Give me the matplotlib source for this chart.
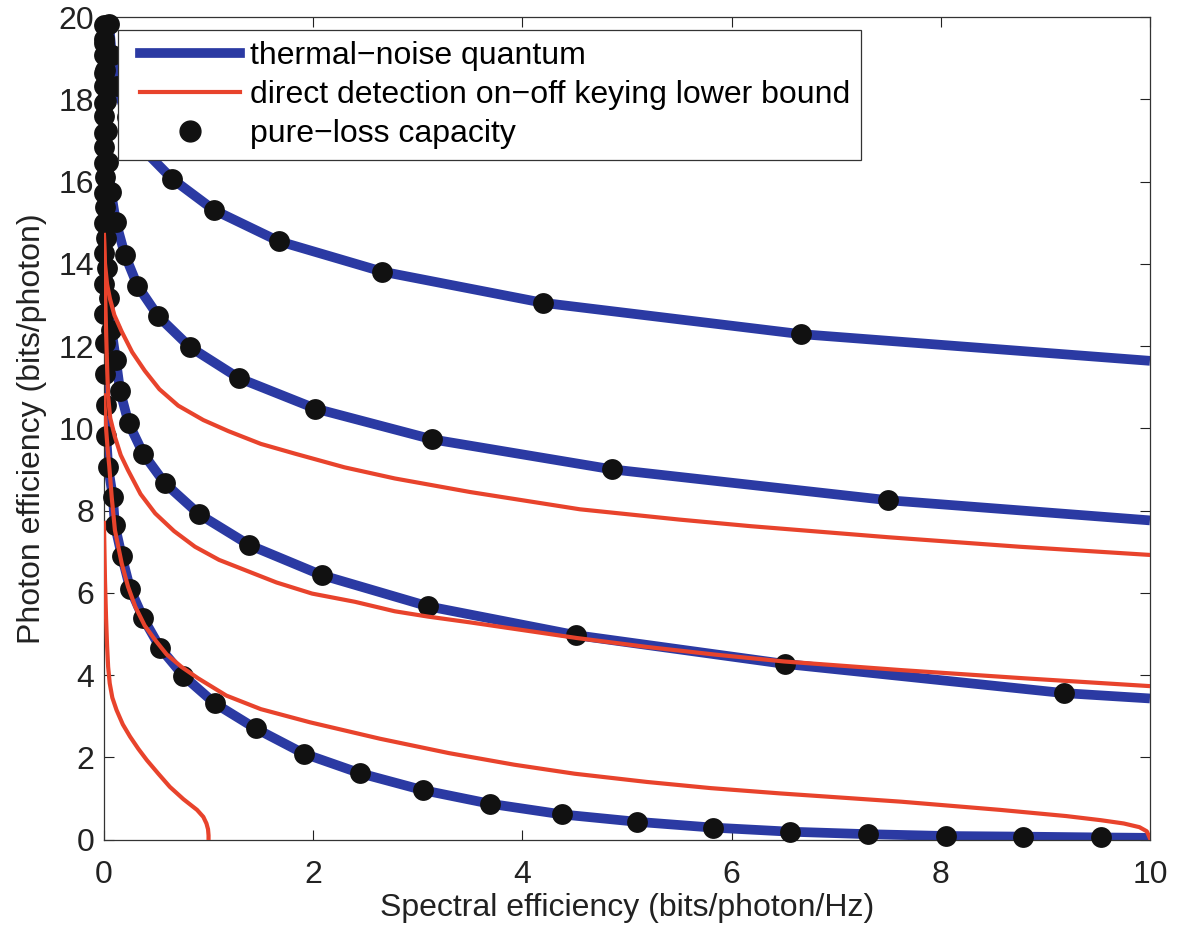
import matplotlib
matplotlib.use("Agg")
import matplotlib.pyplot as plt
from matplotlib.lines import Line2D
from matplotlib.legend_handler import HandlerLine2D

plt.rcParams['font.family'] = ['Liberation Sans', 'DejaVu Sans']

#################################################
# Values
# pure-loss capacity dots, one set per curve (top to bottom)
loss_a_x = [0.05, 0.075, 0.12, 0.22, 0.36, 0.65, 1.05, 1.67, 2.66, 4.2, 6.66]
loss_a_y = [19.82, 19.07, 18.32, 17.57, 16.82, 16.07, 15.31, 14.55, 13.81, 13.05, 12.29]

loss_b_x = [0.005, 0.009, 0.015, 0.025, 0.04, 0.068, 0.115, 0.2, 0.32, 0.52,
            0.82, 1.29, 2.02, 3.14, 4.86, 7.5]
loss_b_y = [19.47, 18.72, 17.97, 17.22, 16.47, 15.74, 15.01, 14.22, 13.47, 12.72,
            11.98, 11.22, 10.48, 9.73, 9.0, 8.25]

loss_c_x = [0.001, 0.0015, 0.002, 0.003, 0.005, 0.008, 0.013, 0.02, 0.032, 0.045,
            0.072, 0.115, 0.155, 0.235, 0.376, 0.58, 0.91, 1.39, 2.08, 3.10,
            4.51, 6.51, 9.18]
loss_c_y = [19.81, 19.07, 18.33, 17.59, 16.85, 16.11, 15.37, 14.63, 13.89, 13.18,
            12.4, 11.65, 10.9, 10.13, 9.38, 8.67, 7.91, 7.16, 6.43, 5.67,
            4.97, 4.27, 3.56]

loss_d_x = [0.0002, 0.0003, 0.0004, 0.0006, 0.0008, 0.001, 0.0015, 0.002, 0.003, 0.004,
            0.006, 0.01, 0.015, 0.022, 0.04, 0.085, 0.105, 0.17, 0.25, 0.376,
            0.54, 0.76, 1.06, 1.45, 1.91, 2.45, 3.05, 3.69, 4.38, 5.10,
            5.82, 6.56, 7.30, 8.05, 8.79, 9.53]
loss_d_y = [19.36, 18.63, 17.9, 17.17, 16.44, 15.71, 14.98, 14.25, 13.52, 12.79,
            12.07, 11.33, 10.56, 9.8, 9.06, 8.33, 7.64, 6.9, 6.1, 5.38,
            4.65, 3.98, 3.31, 2.70, 2.09, 1.61, 1.20, 0.87, 0.61, 0.43,
            0.29, 0.19, 0.13, 0.085, 0.07, 0.05]

# thermal-noise quantum curves: end points beyond the dots (top, right)
quant_start_x = [0.04, 0.003, 0.0008, 0.0001]
quant_start_y = [20.0, 20.0, 20.0, 20.0]
quant_end_y = [11.64, 7.76, 3.43, 0.04]

# direct detection on-off keying lower bound (red)
ook_1_x = [0.0, 0.01, 0.03, 0.057, 0.1, 0.17, 0.27, 0.39, 0.53, 0.71, 0.95, 1.19,
           1.5, 1.83, 2.3, 2.78, 3.5, 4.55, 5.5, 6.18, 7.5, 8.75, 10.0]
ook_1_y = [14.7, 14.0, 13.5, 13.15, 12.75, 12.35, 11.85, 11.4, 10.95, 10.55, 10.2, 9.93,
           9.62, 9.38, 9.05, 8.78, 8.45, 8.03, 7.78, 7.62, 7.35, 7.12, 6.92]

ook_2_x = [0.0, 0.005, 0.012, 0.02, 0.03, 0.04, 0.06, 0.105, 0.16, 0.23, 0.35, 0.49,
           0.67, 0.87, 1.1, 1.35, 1.65, 1.99, 2.4, 2.78, 3.1, 3.5, 4.52, 5.2,
           5.83, 6.5, 7.62, 8.8, 10.0]
ook_2_y = [14.7, 14.0, 13.2, 12.4, 11.5, 10.76, 10.25, 9.79, 9.35, 8.98, 8.4, 7.93,
           7.5, 7.12, 6.8, 6.55, 6.25, 5.98, 5.78, 5.55, 5.42, 5.28, 4.9, 4.68,
           4.5, 4.33, 4.12, 3.92, 3.73]

ook_3_x = [0.0, 0.01, 0.02, 0.035, 0.05, 0.075, 0.105, 0.17, 0.23, 0.30, 0.39, 0.49,
           0.6, 0.74, 0.9, 1.17, 1.5, 1.97, 2.64, 3.3, 3.92, 4.5, 5.19, 5.8,
           6.47, 7.62, 8.57, 9.2, 9.53, 9.75, 9.9, 9.97, 10.0]
ook_3_y = [10.8, 10.4, 10.0, 9.5, 9.1, 8.3, 7.52, 6.71, 6.15, 5.66, 5.2, 4.85,
           4.5, 4.2, 3.92, 3.5, 3.17, 2.85, 2.45, 2.1, 1.82, 1.6, 1.40, 1.25,
           1.12, 0.92, 0.72, 0.57, 0.47, 0.39, 0.3, 0.2, 0.03]

ook_4_x = [0.0, 0.005, 0.01, 0.02, 0.03, 0.04, 0.055, 0.08, 0.12, 0.18, 0.25, 0.33,
           0.41, 0.52, 0.63, 0.76, 0.89, 0.95, 0.98, 0.995, 1.0, 1.0]
ook_4_y = [7.7, 7.0, 6.3, 5.4, 4.7, 4.2, 3.8, 3.45, 3.15, 2.8, 2.5, 2.2,
           1.93, 1.6, 1.28, 0.98, 0.72, 0.55, 0.39, 0.25, 0.1, 0.0]

legend_labels = ["thermal\u2212noise quantum",
                 "direct detection on\u2212off keying lower bound",
                 "pure\u2212loss capacity"]

blue = "#2b3aa3"
red = "#e8432c"
dot = "#111111"

#################################################
fig = plt.figure(figsize=(11.8, 9.26), dpi=100)
ax = fig.add_axes([0.0881, 0.0934, 0.8864, 0.8882])

loss_x = [loss_a_x, loss_b_x, loss_c_x, loss_d_x]
loss_y = [loss_a_y, loss_b_y, loss_c_y, loss_d_y]

for i in range(4):
    xs = [quant_start_x[i]] + loss_x[i] + [10.0]
    ys = [quant_start_y[i]] + loss_y[i] + [quant_end_y[i]]
    ax.plot(xs, ys, "-", color=blue, linewidth=7, solid_capstyle="butt",
            solid_joinstyle="round", zorder=2)

for i in range(4):
    ax.plot(loss_x[i], loss_y[i], "o", color=dot, markersize=15,
            markeredgewidth=0, clip_on=False, zorder=3)

for xs, ys in [(ook_1_x, ook_1_y), (ook_2_x, ook_2_y),
               (ook_3_x, ook_3_y), (ook_4_x, ook_4_y)]:
    ax.plot(xs, ys, "-", color=red, linewidth=3, solid_joinstyle="round", zorder=4)

ax.set_xlim(0, 10)
ax.set_ylim(0, 20)
ax.set_xticks(range(0, 11, 2))
ax.set_yticks(range(0, 21, 2))
ax.tick_params(direction="in", length=7, width=0.8, top=True, right=True,
               labelsize=23, pad=7, colors="#222222")
ax.tick_params(axis="x", pad=15)
for s in ax.spines.values():
    s.set_linewidth(0.9)
    s.set_color("#333333")

ax.set_xlabel("Spectral efficiency (bits/photon/Hz)", fontsize=23, labelpad=2, color="#222222")
ax.set_ylabel("Photon efficiency (bits/photon)", fontsize=23, labelpad=8, color="#222222")

handles = [Line2D([], [], color=blue, linewidth=7),
           Line2D([], [], color=red, linewidth=3),
           Line2D([], [], color=dot, marker="o", linestyle="none", markersize=15)]
leg = ax.legend(handles, legend_labels, loc="upper left", bbox_to_anchor=(0.0134, 0.9842),
                borderaxespad=0, fontsize=23, frameon=True, fancybox=False,
                edgecolor="#333333", framealpha=1, handlelength=3.47,
                handletextpad=0.31, labelspacing=0.28, borderpad=0.34,
                handler_map={Line2D: HandlerLine2D(xpad=0.34)})
leg.get_frame().set_linewidth(0.9)
leg.set_zorder(10)

fig.savefig("out.png", dpi=100, facecolor="white")
